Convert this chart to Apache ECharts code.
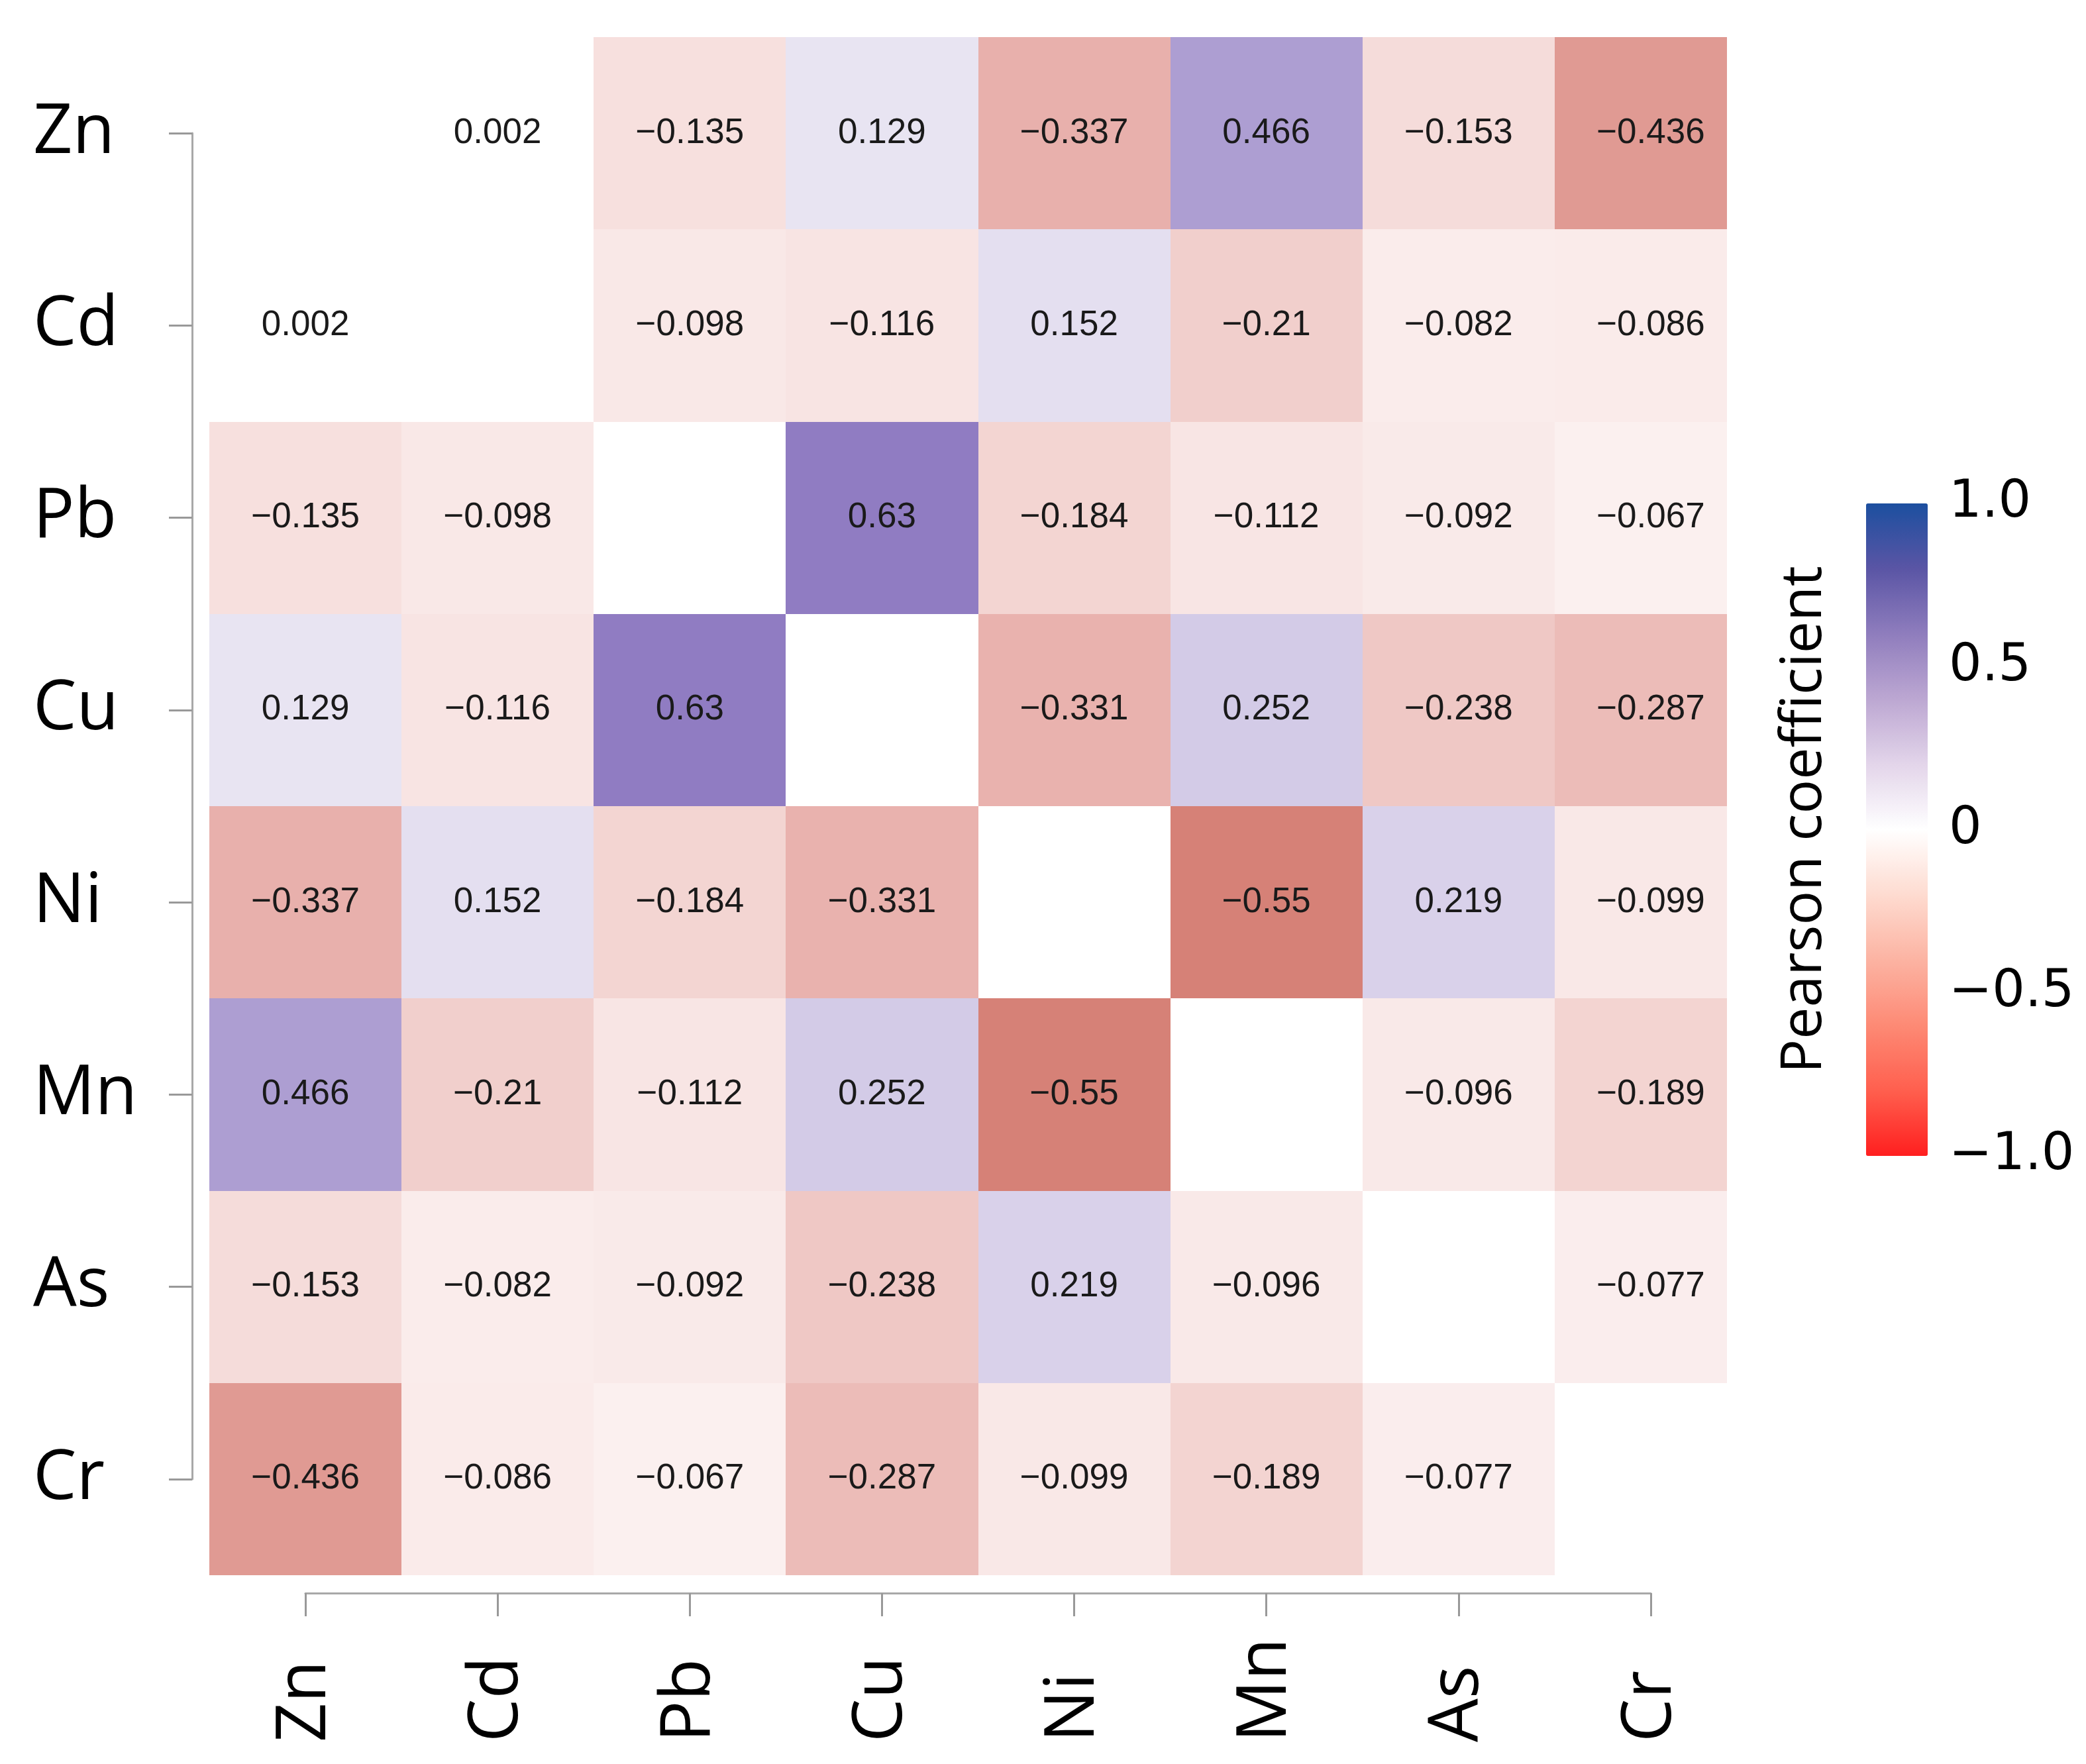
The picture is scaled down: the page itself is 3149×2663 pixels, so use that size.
<!DOCTYPE html>
<html>
<head>
<meta charset="utf-8">
<script src="https://cdn.jsdelivr.net/npm/echarts@6/dist/echarts.min.js"></script>
<style>
  html, body { margin: 0; padding: 0; background: #fff; }
  #main { width: 3149px; height: 2663px; }
</style>
</head>
<body>
<div id="main"></div>
<script>
// elements, in axis order (top to bottom / left to right)
const elements = ['Zn', 'Cd', 'Pb', 'Cu', 'Ni', 'Mn', 'As', 'Cr']

// Pearson coefficients, one row per element (null = diagonal, left blank)
const rowZn = [null, 0.002, -0.135, 0.129, -0.337, 0.466, -0.153, -0.436]
const rowCd = [0.002, null, -0.098, -0.116, 0.152, -0.21, -0.082, -0.086]
const rowPb = [-0.135, -0.098, null, 0.63, -0.184, -0.112, -0.092, -0.067]
const rowCu = [0.129, -0.116, 0.63, null, -0.331, 0.252, -0.238, -0.287]
const rowNi = [-0.337, 0.152, -0.184, -0.331, null, -0.55, 0.219, -0.099]
const rowMn = [0.466, -0.21, -0.112, 0.252, -0.55, null, -0.096, -0.189]
const rowAs = [-0.153, -0.082, -0.092, -0.238, 0.219, -0.096, null, -0.077]
const rowCr = [-0.436, -0.086, -0.067, -0.287, -0.099, -0.189, -0.077, null]
const rows = [rowZn, rowCd, rowPb, rowCu, rowNi, rowMn, rowAs, rowCr]

// colour bar tick labels
const barTicks = { '1': '1.0', '0.5': '0.5', '0': '0', '-0.5': '\u22120.5', '-1': '\u22121.0' }

// cell colours, -1 .. 1 in steps of 0.1 (muted, like the tiles)
const cellColors = [
  '#b22616', '#ba3a2a', '#c24e40', '#ca6256', '#d2766c', '#d98b82',
  '#e4a29d', '#ebb9b5', '#f2d1ce', '#f9e8e7', '#ffffff',
  '#edeaf5', '#dcd5ec', '#cac1e2', '#b9acd8', '#a797cf',
  '#9582c5', '#846dbb', '#7259b1', '#6144a8', '#4f2f9e'
]
// colour bar gradient, -1 .. 1 in steps of 0.2
const barColors = [
  '#ff1f1f', '#ff5f4e', '#fd8a75', '#fcb3a2', '#fedbd0', '#ffffff',
  '#e3d5ea', '#bca7d2', '#8f7dbd', '#5a55a5', '#1c4f9f'
]

const cells = []
rows.forEach((row, i) => {
  row.forEach((v, j) => {
    if (v !== null) cells.push([j, i, v])
  })
})

const chart = echarts.init(document.getElementById('main'))

const axisGrey = '#a8a8a8'
const axisFont = 'Open Sans'
const cellFont = 'Liberation Sans'
const cropRight = 30 // the original figure is cut off a little at the right

const fmt = v => String(v).replace('-', '\u2212')

// tiles: drawn through the category scales, last column trimmed like the source
const renderTile = (params, api) => {
  const c = api.coord([api.value(0), api.value(1)])
  const s = api.size([1, 1])
  const cs = params.coordSys
  const x0 = Math.round(c[0] - s[0] / 2)
  const y0 = Math.round(c[1] - s[1] / 2)
  const shape = echarts.graphic.clipRectByRect(
    { x: x0, y: y0, width: Math.round(c[0] + s[0] / 2) - x0, height: Math.round(c[1] + s[1] / 2) - y0 },
    { x: cs.x, y: cs.y, width: cs.width - cropRight, height: cs.height }
  )
  return {
    type: 'group',
    children: [
      { type: 'rect', shape: shape, style: { fill: api.visual('color') } },
      {
        type: 'text', x: c[0], y: c[1],
        style: {
          text: fmt(api.value(2)), fill: '#1a1a1a',
          font: '53px "' + cellFont + '"', align: 'center', verticalAlign: 'middle'
        }
      }
    ]
  }
}

const option = {
  animation: false,
  backgroundColor: '#ffffff',
  grid: [
    // tiles
    { left: 316, top: 56, width: 2321, height: 2322 },
    // R-style axes running from first to last tick
    { left: 461, top: 201, width: 2031, height: 2032 },
    // colour bar scale
    { left: 2817, top: 760, width: 93, height: 985 }
  ],
  xAxis: [
    {
      type: 'category', gridIndex: 0, data: elements, show: false
    },
    {
      type: 'category', gridIndex: 1, data: elements, boundaryGap: false,
      position: 'bottom', offset: 172,
      axisLine: { show: true, lineStyle: { color: axisGrey, width: 3 } },
      axisTick: { show: true, alignWithLabel: true, length: 35, lineStyle: { color: '#999', width: 3 } },
      axisLabel: {
        rotate: 90, align: 'left', margin: 225, interval: 0,
        color: '#000', fontFamily: axisFont, fontSize: 104
      },
      splitLine: { show: false }
    },
    {
      type: 'value', gridIndex: 2, show: false
    }
  ],
  yAxis: [
    {
      type: 'category', gridIndex: 0, data: elements, inverse: true, show: false
    },
    {
      type: 'category', gridIndex: 1, data: elements, inverse: true, boundaryGap: false,
      position: 'left', offset: 171,
      axisLine: { show: true, lineStyle: { color: axisGrey, width: 3 } },
      axisTick: { show: true, length: 35, lineStyle: { color: '#999', width: 3 } },
      axisLabel: {
        align: 'left', margin: 240, interval: 0,
        color: '#000', fontFamily: axisFont, fontSize: 104
      },
      splitLine: { show: false }
    },
    {
      type: 'value', gridIndex: 2, min: -1, max: 1, interval: 0.5, position: 'right',
      axisLine: { show: false },
      axisTick: { show: true, inside: true, length: 16, lineStyle: { color: '#ffffff', width: 2 } },
      axisLabel: {
        margin: 32, color: '#000', fontFamily: 'DejaVu Sans', fontSize: 78,
        formatter: v => barTicks[String(v)]
      },
      splitLine: { show: false }
    },
    {
      type: 'value', gridIndex: 2, min: -1, max: 1, interval: 0.5, position: 'left',
      name: 'Pearson coefficient', nameLocation: 'middle', nameRotate: 90, nameGap: 50,
      nameTextStyle: { color: '#000', fontFamily: axisFont, fontSize: 86, padding: [0, 0, 0, 30] },
      axisLine: { show: false },
      axisTick: { show: true, inside: true, length: 16, lineStyle: { color: '#ffffff', width: 2 } },
      axisLabel: { show: false },
      splitLine: { show: false }
    }
  ],
  visualMap: [
    {
      type: 'continuous', show: false, seriesIndex: 0, dimension: 2,
      min: -1, max: 1, inRange: { color: cellColors }
    },
    {
      type: 'continuous', show: true, seriesIndex: 1,
      min: -1, max: 1, calculable: false, hoverLink: false,
      left: 2817, top: 760, padding: 0,
      itemWidth: 93, itemHeight: 985,
      text: ['', ''], showLabel: false,
      inRange: { color: barColors }
    }
  ],
  series: [
    {
      type: 'custom', xAxisIndex: 0, yAxisIndex: 0,
      dimensions: ['col', 'row', 'r'],
      encode: { x: 0, y: 1 },
      data: cells,
      renderItem: renderTile,
      silent: true
    },
    {
      // empty, only carries the colour bar
      type: 'scatter', xAxisIndex: 2, yAxisIndex: 2, data: [], silent: true
    }
  ]
}

chart.setOption(option)
</script>
</body>
</html>
